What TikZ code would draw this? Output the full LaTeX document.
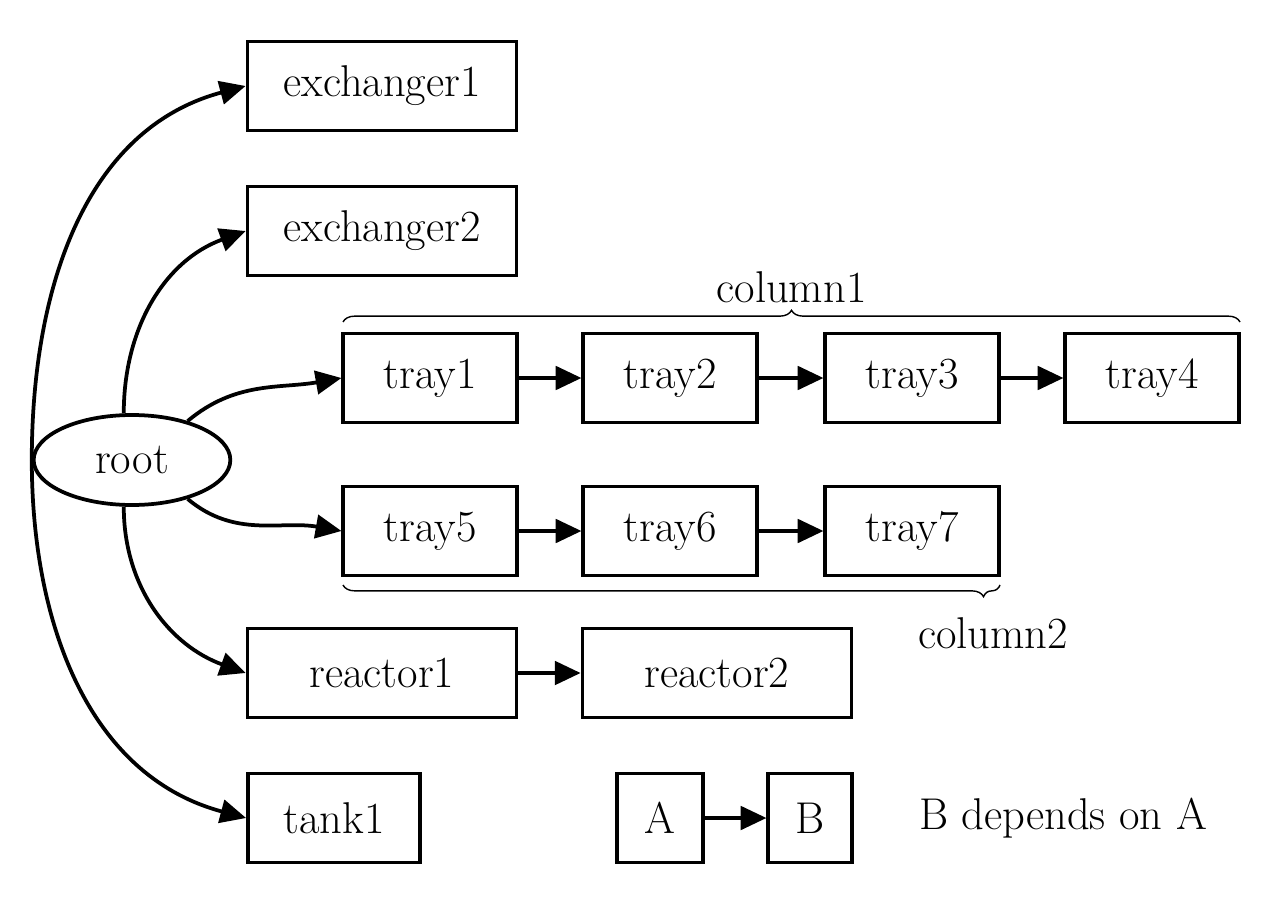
\documentclass[tikz,border=0pt]{standalone}
\usetikzlibrary{arrows.meta,decorations.pathreplacing,shapes.geometric}
\begin{document}
\begin{tikzpicture}[x=0.03cm,y=-0.03cm,
  every node/.style={font=\fontsize{38}{40}\selectfont},
  box/.style={draw,line width=3.2pt,inner sep=0pt,minimum height=2.67cm},
  ar/.style={line width=3.2pt,-{Triangle[length=22pt,width=20pt]}},
  br/.style={line width=1.2pt,decorate,decoration={brace,amplitude=10pt}}]
\useasboundingbox (0,0) rectangle (1287,898);
\node[box,minimum width=8.07cm] (e1) at (382,86) {exchanger1};
\node[box,minimum width=8.07cm] (e2) at (382,231) {exchanger2};
\node[box,minimum width=5.2cm] (t1) at (430,378) {tray1};
\node[box,minimum width=5.2cm] (t2) at (670,378) {tray2};
\node[box,minimum width=5.2cm] (t3) at (912,378) {tray3};
\node[box,minimum width=5.2cm] (t4) at (1152,378) {tray4};
\node[box,minimum width=5.2cm] (t5) at (430,531) {tray5};
\node[box,minimum width=5.2cm] (t6) at (670,531) {tray6};
\node[box,minimum width=5.2cm] (t7) at (912,531) {tray7};
\node[box,minimum width=8.07cm] (r1) at (382,673) {reactor1};
\node[box,minimum width=8.07cm] (r2) at (717,673) {reactor2};
\node[box,minimum width=5.16cm] (k1) at (334,818) {tank1};
\node[box,minimum width=2.58cm] (a) at (660,818) {A};
\node[box,minimum width=2.5cm] (b) at (810,818) {B};
\node (leg) at (1063,818) {B depends on A};
\node[draw,line width=3.2pt,ellipse,minimum width=5.9cm,minimum height=2.7cm,inner sep=0pt] (root) at (132,460) {root};
\draw[ar] (root.180) to[out=90,in=195] (e1.west);
\draw[ar] (root.100) to[out=90,in=200] (e2.west);
\draw[ar] (root.35) to[out=40,in=190] (t1.west);
\draw[ar] (root.-35) to[out=-40,in=170] (t5.west);
\draw[ar] (root.-100) to[out=-90,in=160] (r1.west);
\draw[ar] (root.180) to[out=-90,in=165] (k1.west);
\draw[ar] (t1) -- (t2); \draw[ar] (t2) -- (t3); \draw[ar] (t3) -- (t4);
\draw[ar] (t5) -- (t6); \draw[ar] (t6) -- (t7);
\draw[ar] (r1) -- (r2); \draw[ar] (a) -- (b);
\coordinate (c1a) at (343,322); \coordinate (c1b) at (1240,322);
\draw[br] (c1a) -- (c1b) node[midway,above=12pt] (c1) {column1};
\coordinate (c2a) at (1000,585); \coordinate (c2b) at (343,585);
\draw[br,decoration={aspect=0.025}] (c2a) -- (c2b);
\node (c2) at (993,633) {column2};
\end{tikzpicture}
\end{document}
